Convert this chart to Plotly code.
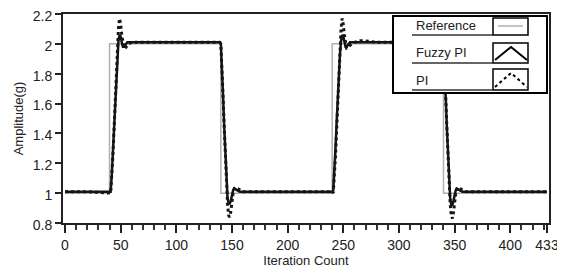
import plotly.graph_objects as go

# ---- data ----
ref_x = [0, 40, 40, 140, 140, 240, 240, 340, 340, 433]
ref_y = [1, 1, 2, 2, 1, 1, 2, 2, 1, 1]

fuzzy_x = [0, 20, 41, 42, 43, 44, 45, 46, 47, 48, 49, 50, 51, 52, 53, 54, 56, 60, 100, 139,
           140, 141, 142, 143, 144, 145, 146, 147, 148, 149, 150, 151, 152, 154, 157, 170, 240,
           241, 242, 243, 244, 245, 246, 247, 248, 249, 250, 251, 252, 253, 254, 256, 260, 300, 339,
           340, 341, 342, 343, 344, 345, 346, 347, 348, 349, 350, 351, 352, 354, 357, 370, 433]
fuzzy_y = [1.01, 1.01, 1.01, 1.12, 1.28, 1.45, 1.62, 1.78, 1.92, 2.02, 2.06, 2.05, 2.01, 1.98, 1.98, 1.99, 2.01, 2.01, 2.01, 2.01,
           2.0, 1.85, 1.65, 1.45, 1.25, 1.08, 0.97, 0.93, 0.93, 0.95, 0.99, 1.02, 1.03, 1.02, 1.01, 1.01, 1.01,
           1.02, 1.14, 1.3, 1.47, 1.64, 1.8, 1.93, 2.02, 2.06, 2.05, 2.01, 1.98, 1.98, 1.99, 2.01, 2.01, 2.01, 2.01,
           2.0, 1.85, 1.65, 1.45, 1.25, 1.08, 0.97, 0.92, 0.92, 0.95, 0.99, 1.02, 1.03, 1.02, 1.01, 1.01, 1.01]

pi_x = [0, 20, 41, 42, 43, 44, 45, 46, 47, 48, 49, 50, 51, 52, 53, 54, 55, 57, 60, 100, 139,
        140, 141, 142, 143, 144, 145, 146, 147, 148, 149, 150, 151, 152, 153, 155, 157, 160, 200, 240,
        241, 242, 243, 244, 245, 246, 247, 248, 249, 250, 251, 252, 253, 254, 256, 260, 265, 270, 280, 300, 339,
        340, 341, 342, 343, 344, 345, 346, 347, 348, 349, 350, 351, 352, 353, 355, 357, 360, 400, 433]
pi_y = [1.01, 1.01, 1.0, 1.1, 1.25, 1.42, 1.6, 1.78, 1.95, 2.1, 2.17, 2.13, 2.06, 2.0, 1.97, 1.97, 1.98, 2.0, 2.01, 2.01, 2.01,
        2.0, 1.85, 1.65, 1.45, 1.25, 1.07, 0.93, 0.85, 0.84, 0.88, 0.95, 1.0, 1.03, 1.04, 1.03, 1.02, 1.01, 1.01, 1.01,
        1.0, 1.1, 1.25, 1.42, 1.6, 1.78, 1.95, 2.1, 2.17, 2.13, 2.06, 2.0, 1.97, 1.97, 1.99, 2.01, 2.02, 2.02, 2.01, 2.01, 2.01,
        2.0, 1.85, 1.65, 1.45, 1.25, 1.07, 0.93, 0.85, 0.83, 0.87, 0.95, 1.0, 1.03, 1.04, 1.03, 1.02, 1.01, 1.01, 1.01]

x_tickvals = [0, 50, 100, 150, 200, 250, 300, 350, 400, 433]
x_ticktext = ["0", "50", "100", "150", "200", "250", "300", "350", "400", "433"]
y_tickvals = [0.8, 1.0, 1.2, 1.4, 1.6, 1.8, 2.0, 2.2]
y_ticktext = ["0.8", "1", "1.2", "1.4", "1.6", "1.8", "2", "2.2"]
legend_names = ["Reference", "Fuzzy PI", "PI"]

fig = go.Figure()
fig.add_trace(go.Scatter(x=ref_x, y=ref_y, mode="lines", name=legend_names[0],
                         line=dict(color="#b0b0b0", width=1.5)))
fig.add_trace(go.Scatter(x=fuzzy_x, y=fuzzy_y, mode="lines", name=legend_names[1],
                         line=dict(color="#151515", width=2.5)))
fig.add_trace(go.Scatter(x=pi_x, y=pi_y, mode="lines", name=legend_names[2],
                         line=dict(color="#151515", width=3, dash="dot")))

font_family = "Liberation Sans, Arial, sans-serif"

# page body has an 8px default margin, so the figure is offset by 8px
fig.update_layout(
    width=557, height=265,
    margin=dict(l=55, r=16, t=6, b=50),
    paper_bgcolor="white", plot_bgcolor="white",
    showlegend=False,
    font=dict(family=font_family, size=14, color="#222"),
    xaxis=dict(range=[-1.8, 434.8], tickmode="array", tickvals=x_tickvals, ticktext=x_ticktext,
               ticks="outside", ticklen=8, tickwidth=2, tickcolor="#222",
               minor=dict(dtick=10, tick0=0, ticks="outside", ticklen=5, tickwidth=2, tickcolor="#333"),
               showline=True, linecolor="#222", linewidth=2, mirror=True,
               showgrid=False, zeroline=False, automargin=False, ticklabeloverflow="allow",
               title=dict(text="Iteration Count", font=dict(size=13), standoff=2),
               tickfont=dict(size=14)),
    yaxis=dict(range=[0.8, 2.2], tickmode="array", tickvals=y_tickvals, ticktext=y_ticktext,
               ticks="outside", ticklen=6, tickwidth=2, tickcolor="#222",
               showline=True, linecolor="#222", linewidth=2, mirror=True,
               showgrid=False, zeroline=False, automargin=False, ticklabelshift=2,
               ticklabeloverflow="allow",
               title=dict(text="Amplitude(g)", font=dict(size=13), standoff=6),
               tickfont=dict(size=14)),
)

# ---- custom legend box (page pixel layout converted to paper coords) ----
PL, PR, PT, PB = 63, 549, 14, 223
def px(x):
    return (x - PL) / (PR - PL)
def py(y):
    return (PB - y) / (PB - PT)

shapes = []
shapes.append(dict(type="rect", xref="paper", yref="paper", x0=px(393), x1=px(547), y0=py(93), y1=py(16),
                   line=dict(color="black", width=2), fillcolor="white", layer="above"))
rows = [(18, 35), (43, 63), (69, 90)]
for (t, b) in rows:
    shapes.append(dict(type="rect", xref="paper", yref="paper", x0=px(493), x1=px(528), y0=py(b), y1=py(t),
                       line=dict(color="black", width=1.5), fillcolor="white", layer="above"))
for yy in [35, 63, 90]:
    shapes.append(dict(type="line", xref="paper", yref="paper", x0=px(412), x1=px(493), y0=py(yy), y1=py(yy),
                       line=dict(color="#333", width=1.5), layer="above"))
shapes.append(dict(type="line", xref="paper", yref="paper", x0=px(498), x1=px(523), y0=py(26), y1=py(26),
                   line=dict(color="#b0b0b0", width=1.5), layer="above"))
shapes.append(dict(type="path", xref="paper", yref="paper",
                   path=f"M {px(495)} {py(60)} L {px(511)} {py(47)} L {px(527)} {py(60)}",
                   line=dict(color="black", width=2), layer="above"))
shapes.append(dict(type="path", xref="paper", yref="paper",
                   path=f"M {px(495)} {py(87)} L {px(511)} {py(73)} L {px(527)} {py(87)}",
                   line=dict(color="black", width=2, dash="dot"), layer="above"))
fig.update_layout(shapes=shapes)

for name, yy in zip(legend_names, [26, 53, 80]):
    fig.add_annotation(xref="paper", yref="paper", x=px(414), y=py(yy), text=name, showarrow=False,
                       xanchor="left", yanchor="middle", font=dict(size=13, color="#222", family=font_family))

fig.write_html("out.html")
